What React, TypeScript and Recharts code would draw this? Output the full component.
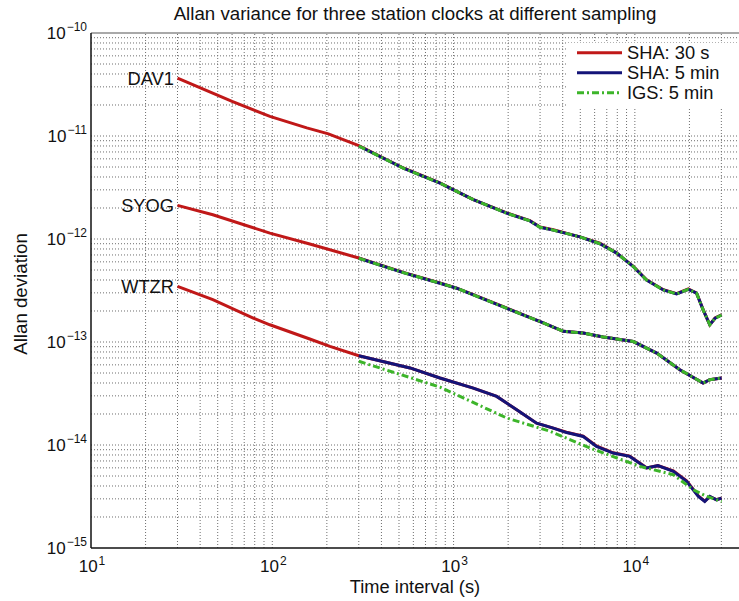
import React from 'react';
import { LineChart, Line, XAxis, YAxis, ReferenceLine, ReferenceDot, Legend } from 'recharts';

const FONT = '"Liberation Sans", Arial, Helvetica, sans-serif';

const TITLE = 'Allan variance for three station clocks at different sampling';
const X_LABEL = 'Time interval (s)';
const Y_LABEL = 'Allan deviation';

const xTicks = [10, 100, 1000, 10000];
const yTicks = [1e-15, 1e-14, 1e-13, 1e-12, 1e-11, 1e-10];
const xDecades = [10, 100, 1000, 10000];
const yDecades = [1e-15, 1e-14, 1e-13, 1e-12, 1e-11];
const gridMultipliers = [1, 2, 3, 4, 5, 6, 7, 8, 9];

const seriesNames = ['SHA: 30 s', 'SHA: 5 min', 'IGS: 5 min'];
const seriesColors = ['#c01818', '#141478', '#3db52a'];
const seriesDash = [undefined, undefined, '7 3 2 3'];

const stationNames = ['DAV1', 'SYOG', 'WTZR'];

// DAV1
const dav1Tau30 = [30, 60, 97, 155, 204, 300, 528, 841, 1040, 1285, 1963, 2636, 2997, 3548, 4977, 6412, 7940, 9800, 11600, 14350, 17000, 19700, 21900, 23800, 25900, 27700, 30100];
const dav1Sha30 = [3.65e-11, 2.17e-11, 1.55e-11, 1.2e-11, 1.05e-11, 8.05e-12, 4.89e-12, 3.5e-12, 2.9e-12, 2.41e-12, 1.79e-12, 1.51e-12, 1.31e-12, 1.23e-12, 1.05e-12, 9.1e-13, 7.3e-13, 5.42e-13, 4.02e-13, 3.22e-13, 2.94e-13, 3.27e-13, 2.99e-13, 2.06e-13, 1.47e-13, 1.71e-13, 1.84e-13];
const dav1Tau5 = [300, 528, 841, 1040, 1285, 1963, 2636, 2997, 3548, 4977, 6412, 7940, 9800, 11600, 14350, 17000, 19700, 21900, 23800, 25900, 27700, 30100];
const dav1Sha5 = [8.0e-12, 4.87e-12, 3.49e-12, 2.9e-12, 2.41e-12, 1.78e-12, 1.5e-12, 1.3e-12, 1.22e-12, 1.05e-12, 9.0e-13, 7.3e-13, 5.4e-13, 4.0e-13, 3.2e-13, 2.93e-13, 3.25e-13, 2.98e-13, 2.05e-13, 1.47e-13, 1.7e-13, 1.83e-13];
const dav1Igs5 = [8.0e-12, 4.87e-12, 3.49e-12, 2.9e-12, 2.41e-12, 1.78e-12, 1.5e-12, 1.3e-12, 1.22e-12, 1.05e-12, 9.0e-13, 7.3e-13, 5.4e-13, 4.0e-13, 3.2e-13, 2.93e-13, 3.25e-13, 2.98e-13, 2.05e-13, 1.47e-13, 1.7e-13, 1.83e-13];

// SYOG
const syogTau30 = [30, 47, 97, 161, 300, 528, 841, 1040, 1285, 1880, 3125, 4030, 5190, 6690, 9800, 13200, 17700, 23800, 25900, 30100];
const syogSha30 = [2.12e-12, 1.72e-12, 1.14e-12, 8.93e-13, 6.54e-13, 4.74e-13, 3.74e-13, 3.34e-13, 2.88e-13, 2.2e-13, 1.53e-13, 1.27e-13, 1.22e-13, 1.12e-13, 1.01e-13, 7.8e-14, 5.38e-14, 4.0e-14, 4.3e-14, 4.47e-14];
const syogTau5 = [300, 528, 841, 1040, 1285, 1880, 3125, 4030, 5190, 6690, 9800, 13200, 17700, 23800, 25900, 30100];
const syogSha5 = [6.5e-13, 4.72e-13, 3.72e-13, 3.33e-13, 2.87e-13, 2.19e-13, 1.53e-13, 1.27e-13, 1.22e-13, 1.12e-13, 1.01e-13, 7.8e-14, 5.38e-14, 4.0e-14, 4.3e-14, 4.47e-14];
const syogIgs5 = [6.5e-13, 4.72e-13, 3.72e-13, 3.33e-13, 2.87e-13, 2.19e-13, 1.53e-13, 1.27e-13, 1.22e-13, 1.12e-13, 1.01e-13, 7.8e-14, 5.38e-14, 4.0e-14, 4.3e-14, 4.47e-14];

// WTZR
const wtzrTau30 = [30, 47, 78.5, 97, 161, 208, 300, 575, 841, 1285, 1730, 2230, 2870, 3550, 4200, 5190, 6140, 7590, 9370, 11600, 13400, 16300, 19300, 22400, 24300, 25900, 28200, 30100];
const wtzrSha30 = [3.47e-13, 2.58e-13, 1.71e-13, 1.47e-13, 1.07e-13, 9.06e-14, 7.36e-14, 5.6e-14, 4.47e-14, 3.57e-14, 2.96e-14, 2.2e-14, 1.63e-14, 1.46e-14, 1.33e-14, 1.22e-14, 9.8e-15, 8.4e-15, 7.8e-15, 6.0e-15, 6.3e-15, 5.6e-15, 4.5e-15, 3.2e-15, 2.85e-15, 3.15e-15, 2.95e-15, 3.05e-15];
const wtzrTau5 = [300, 575, 841, 1285, 1730, 2230, 2870, 3550, 4200, 5190, 6140, 7590, 9370, 11600, 13400, 16300, 19300, 22400, 24300, 25900, 28200, 30100];
const wtzrSha5 = [7.36e-14, 5.6e-14, 4.47e-14, 3.57e-14, 2.96e-14, 2.2e-14, 1.63e-14, 1.46e-14, 1.32e-14, 1.21e-14, 9.7e-15, 8.35e-15, 7.75e-15, 5.98e-15, 6.3e-15, 5.55e-15, 4.43e-15, 3.17e-15, 2.83e-15, 3.17e-15, 2.94e-15, 3.05e-15];
const wtzrIgsTau = [300, 346, 841, 1963, 3400, 5650, 10660, 16300, 21000, 24900, 30100];
const wtzrIgs5 = [6.5e-14, 6.0e-14, 3.65e-14, 1.83e-14, 1.36e-14, 9.35e-15, 6.2e-15, 5.15e-15, 3.68e-15, 3.17e-15, 2.83e-15];

const pts = (tau: number[], v: number[]) => tau.map((t, i) => ({ t, v: v[i] }));

const series30 = [pts(dav1Tau30, dav1Sha30), pts(syogTau30, syogSha30), pts(wtzrTau30, wtzrSha30)];
const seriesSha5 = [pts(dav1Tau5, dav1Sha5), pts(syogTau5, syogSha5), pts(wtzrTau5, wtzrSha5)];
const seriesIgs5 = [pts(dav1Tau5, dav1Igs5), pts(syogTau5, syogIgs5), pts(wtzrIgsTau, wtzrIgs5)];

const xGrid: number[] = [];
xDecades.forEach((d) => gridMultipliers.forEach((m) => { if (d * m < 40000 && d * m > 10) xGrid.push(d * m); }));
const yGrid: number[] = [];
yDecades.forEach((d) => gridMultipliers.forEach((m) => { if (d * m > 1e-15) yGrid.push(d * m); }));

const sup = (v: number) => {
  const e = Math.round(Math.log10(v));
  return e < 0 ? '\u2212' + Math.abs(e) : String(e);
};

const YTick = (p: any) => {
  const { x, y, payload } = p;
  return (
    <text x={x - 4} y={y + 6} textAnchor="end" fontFamily={FONT} fontSize={17} fill="#111">
      <tspan fontSize={17}>10</tspan>
      <tspan fontSize={12} dy={-8} dx={1}>{sup(payload.value)}</tspan>
    </text>
  );
};

const XTick = (p: any) => {
  const { x, y, payload } = p;
  return (
    <text x={x + 1} y={y + 23.7} textAnchor="middle" fontFamily={FONT} fontSize={17} fill="#111">
      <tspan fontSize={17}>10</tspan>
      <tspan fontSize={12} dy={-6.7} dx={1}>{sup(payload.value)}</tspan>
    </text>
  );
};

const stationLabel = (name: string) => (p: any) => {
  const vb = p.viewBox;
  return (
    <text x={vb.x - 2.5} y={vb.y + 1 + 6.5} textAnchor="end" fontSize={18.3} fontFamily={FONT} fill="#111">{name}</text>
  );
};

const titleLabel = (p: any) => {
  const vb = p.viewBox;
  return (
    <text x={vb.x + vb.width / 2 - 2.5} y={vb.y - 13} textAnchor="middle" fontSize={18.7} fontFamily={FONT} fill="#111">{TITLE}</text>
  );
};

const yLabel = (p: any) => {
  const vb = p.viewBox;
  const cx = vb.x + 27;
  const cy = vb.y + vb.height / 2 + 3.5;
  return (
    <text x={cx} y={cy} transform={`rotate(-90 ${cx} ${cy})`} textAnchor="middle" fontSize={18.7} fontFamily={FONT} fill="#111">{Y_LABEL}</text>
  );
};

const xLabel = (p: any) => {
  const vb = p.viewBox;
  return (
    <text x={vb.x + vb.width / 2 - 2.5} y={vb.y + 45} textAnchor="middle" fontSize={18.3} fontFamily={FONT} fill="#111">{X_LABEL}</text>
  );
};

const LegendBox = () => (
  <svg width={171} height={64} style={{ display: 'block', background: '#fff', overflow: 'visible' }}>
    {seriesNames.map((n, i) => (
      <g key={n}>
        <line x1={9} x2={54} y1={9.7 + i * 20} y2={9.7 + i * 20} stroke={seriesColors[i]} strokeWidth={3} strokeDasharray={seriesDash[i]} />
        <text x={59} y={9.7 + i * 20 + 6.5} fontSize={18.3} fontFamily={FONT} fill="#111">{n}</text>
      </g>
    ))}
  </svg>
);

export default function App() {
  return (
    <div style={{ position: 'absolute', left: 0, top: 0, width: 739, height: 601, overflow: 'hidden', background: '#fff' }}>
      <LineChart width={760} height={601} margin={{ top: 33, right: 16, bottom: 0, left: 0 }}>
        <XAxis
          dataKey="t"
          type="number"
          scale="log"
          domain={[10, 40000]}
          ticks={xTicks}
          allowDataOverflow
          tickLine={false}
          tickSize={0}
          tickMargin={0}
          height={53}
          axisLine={{ stroke: '#111', strokeWidth: 1.5 }}
          tick={<XTick />}
          label={{ content: xLabel }}
        />
        <YAxis
          dataKey="v"
          type="number"
          scale="log"
          domain={[1e-15, 1e-10]}
          ticks={yTicks}
          allowDataOverflow
          tickLine={false}
          tickSize={0}
          tickMargin={0}
          width={91}
          axisLine={{ stroke: '#111', strokeWidth: 1.5 }}
          tick={<YTick />}
          label={{ content: yLabel }}
        />
        {xGrid.map((g) => (
          <ReferenceLine key={'xg' + g} x={g} stroke="#6e6e6e" strokeWidth={1} strokeDasharray="1 2" />
        ))}
        {yGrid.map((g) => (
          <ReferenceLine key={'yg' + g} y={g} stroke="#6e6e6e" strokeWidth={1} strokeDasharray="1 2" />
        ))}
        <ReferenceLine y={1e-10} stroke="#555" strokeWidth={1.2} label={titleLabel} />
        {series30.map((d, i) => (
          <Line key={'r' + i} data={d} dataKey="v" type="linear" stroke={seriesColors[0]} strokeWidth={3} dot={false} isAnimationActive={false} name={seriesNames[0]} />
        ))}
        {seriesSha5.map((d, i) => (
          <Line key={'b' + i} data={d} dataKey="v" type="linear" stroke={seriesColors[1]} strokeWidth={3} dot={false} isAnimationActive={false} name={seriesNames[1]} />
        ))}
        {seriesIgs5.map((d, i) => (
          <Line key={'g' + i} data={d} dataKey="v" type="linear" stroke={seriesColors[2]} strokeWidth={3} strokeDasharray={seriesDash[2]} dot={false} isAnimationActive={false} name={seriesNames[2]} />
        ))}
        {stationNames.map((s, i) => (
          <ReferenceDot key={s} x={series30[i][0].t} y={series30[i][0].v} r={1} fill="none" stroke="none" label={stationLabel(s)} />
        ))}
        <Legend
          layout="vertical"
          align="center"
          verticalAlign="middle"
          content={<LegendBox />}
          wrapperStyle={{ position: 'absolute', left: 568, top: 43, width: 171, margin: 0, padding: 0, overflow: 'visible' }}
        />
      </LineChart>
    </div>
  );
}
